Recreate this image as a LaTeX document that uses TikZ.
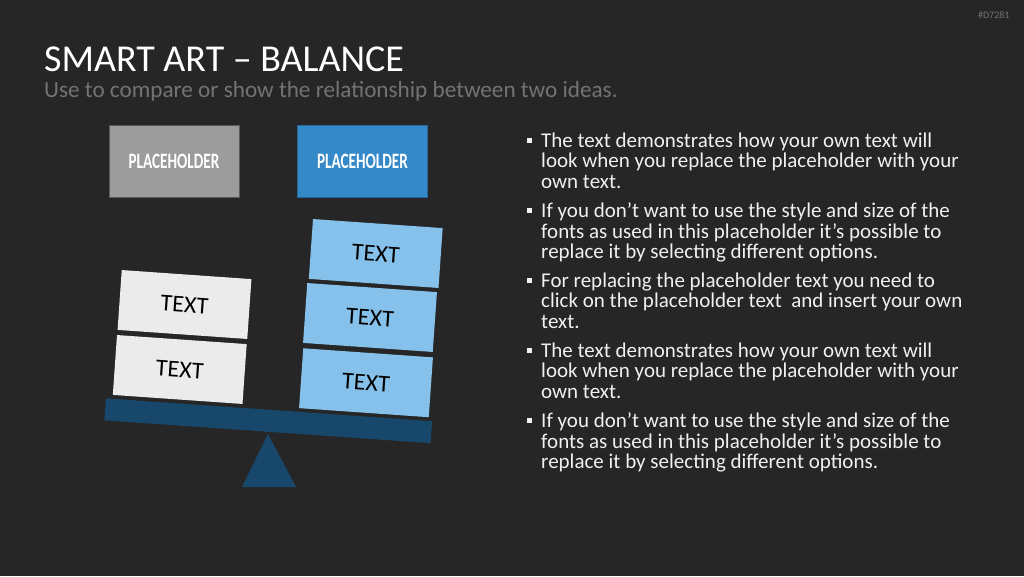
\documentclass[tikz,border=0pt]{standalone}
\usepackage{fontspec}
\setmainfont{Carlito}
\newfontfamily\phfont{Carlito}[FakeStretch=0.69]
\usepackage{tikz}

\definecolor{bg}{HTML}{262626}
\definecolor{phgray}{HTML}{9C9C9C}
\definecolor{phblue}{HTML}{3489C9}
\definecolor{cardgray}{HTML}{EBEBEB}
\definecolor{cardblue}{HTML}{85C1EA}
\definecolor{beamblue}{HTML}{17486B}
\definecolor{subtxt}{HTML}{737373}
\definecolor{bodytxt}{HTML}{F0F0F0}

\tikzset{
	card/.style={minimum width=130pt, minimum height=60pt, inner sep=0pt, rotate=-4, text=black, font=\fontsize{24}{28}\selectfont},
	lcard/.style={card, fill=cardgray},
	rcard/.style={card, fill=cardblue},
	phbox/.style={minimum width=130pt, minimum height=72pt, inner sep=0pt, line width=0.6pt, text=white, font=\phfont\bfseries\fontsize{22}{26}\selectfont},
	para/.style={anchor=north west, inner sep=0pt, align=left, text=bodytxt, font=\fontsize{21}{20.5}\selectfont},
	bul/.style={anchor=north west, fill=bodytxt, minimum size=5pt, inner sep=0pt},
}

\begin{document}
\begin{tikzpicture}[x=1pt, y=-1pt]
	\fill[bg] (0,0) rectangle (1024,576);
	\useasboundingbox (0,0) rectangle (1024,576);
	% title
	\node[anchor=base east, text=subtxt, font=\fontsize{10}{11}\selectfont] (code) at (1013,18) {\#D7281};
	\node[anchor=base west, inner sep=0pt, text=white, font=\fontsize{38}{44}\selectfont] (title) at (44,71) {SMART ART – BALANCE};
	\node[anchor=base west, inner sep=0pt, text=subtxt, font=\fontsize{23.2}{28}\selectfont] (subtitle) at (44,97) {Use to compare or show the relationship between two ideas.};
	% headers
	\node[phbox, fill=phgray, draw=black!65] (lhead) at (174,161) {PLACEHOLDER};
	\node[phbox, fill=phblue, draw=phblue!75!black] (rhead) at (362.5,161) {PLACEHOLDER};
	% balance
	\node[fill=beamblue, minimum width=327pt, minimum height=22pt, inner sep=0pt, rotate=-4] (beam) at (268.25,420.75) {};
	\fill[beamblue] (268,434) -- (242,487) -- (296,487) -- cycle;
	\node[lcard] (l1) at (184.5,304.5) {TEXT};
	\node[lcard] (l2) at (179.75,369.5) {TEXT};
	\node[rcard] (r1) at (375.75,253.5) {TEXT};
	\node[rcard] (r2) at (370,317.5) {TEXT};
	\node[rcard] (r3) at (366,382.75) {TEXT};
	% bullet list
	\foreach \i/\y/\t in {
		1/146/{The text demonstrates how your own text will\\look when you replace the placeholder with your\\own text.},
		2/216/{If you don’t want to use the style and size of the\\fonts as used in this placeholder it’s possible to\\replace it by selecting different options.},
		3/286/{For replacing the placeholder text you need to\\click on the placeholder text\ \ and insert your own\\text.},
		4/356/{The text demonstrates how your own text will\\look when you replace the placeholder with your\\own text.},
		5/426/{If you don’t want to use the style and size of the\\fonts as used in this placeholder it’s possible to\\replace it by selecting different options.}} {
		\node[para] (p\i) at (541,\y-13.5) {\t};
		\node[bul] (b\i) at (527,\y-8.5) {};
	}
\end{tikzpicture}
\end{document}
